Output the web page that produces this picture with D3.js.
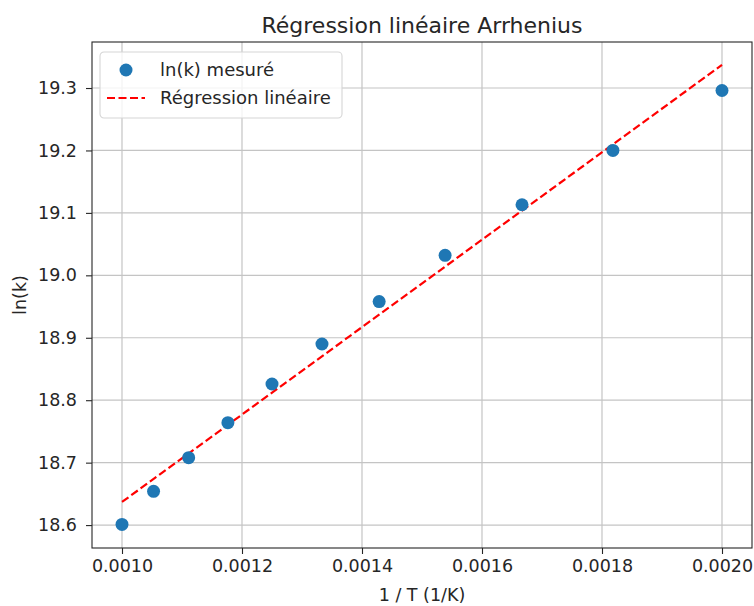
<!DOCTYPE html>
<html>
<head>
<meta charset="utf-8">
<script src="https://cdn.jsdelivr.net/npm/d3@7"></script>
<style>
  body { margin: 0; background: #fff; }
  text { font-family: "DejaVu Sans", sans-serif; fill: #262626; }
</style>
</head>
<body>
<script>
// data
let invT = [0.0010, 0.0010526, 0.0011111, 0.0011765, 0.00125, 0.0013333, 0.0014286, 0.0015385, 0.0016667, 0.0018182, 0.0020]
let lnK = [18.601, 18.654, 18.708, 18.764, 18.826, 18.890, 18.958, 19.032, 19.113, 19.200, 19.296]
let fitX = [0.0010, 0.0020]
let fitY = [18.637, 19.337]
let xTicks = [0.0010, 0.0012, 0.0014, 0.0016, 0.0018, 0.0020]
let yTicks = [18.6, 18.7, 18.8, 18.9, 19.0, 19.1, 19.2, 19.3]

let W = 754, H = 606
let margin = { top: 42, right: 2, bottom: 58, left: 92 }
  , width = W - margin.left - margin.right
  , height = H - margin.top - margin.bottom

let xScale = d3.scaleLinear()
  .domain([0.00095, 0.00205])
  .range([0, width])

let yScale = d3.scaleLinear()
  .domain([18.5633, 19.3737])
  .range([height, 0])

let svg = d3.select("body").append("svg")
  .attr("width", W)
  .attr("height", H)

let g = svg.append("g")
  .attr("transform", "translate(" + margin.left + "," + margin.top + ")")

// grid
g.append("g").selectAll("line")
  .data(xTicks).enter().append("line")
  .attr("x1", d => xScale(d)).attr("x2", d => xScale(d))
  .attr("y1", 0).attr("y2", height)
  .attr("stroke", "#c4c4c4").attr("stroke-width", 1.2)

g.append("g").selectAll("line")
  .data(yTicks).enter().append("line")
  .attr("y1", d => yScale(d)).attr("y2", d => yScale(d))
  .attr("x1", 0).attr("x2", width)
  .attr("stroke", "#c4c4c4").attr("stroke-width", 1.2)

// axes
let xAxis = g.append("g")
  .attr("transform", "translate(0," + height + ")")
  .call(d3.axisBottom(xScale).tickValues(xTicks).tickFormat(d3.format(".4f")).tickSize(6).tickPadding(6))

let yAxis = g.append("g")
  .call(d3.axisLeft(yScale).tickValues(yTicks).tickFormat(d3.format(".1f")).tickSize(6).tickPadding(9))

;[xAxis, yAxis].forEach(a => {
  a.select(".domain").remove()
  a.selectAll("line").attr("stroke", "#262626").attr("stroke-width", 1.1)
  a.selectAll("text").style("font-size", "17.5px").style("font-family", "DejaVu Sans, sans-serif").attr("fill", "#262626")
})

// frame
g.append("rect")
  .attr("width", width).attr("height", height)
  .attr("fill", "none").attr("stroke", "#262626").attr("stroke-width", 1.1)

// regression line
let line = d3.line()
  .x((d, i) => xScale(fitX[i]))
  .y(d => yScale(d))

g.append("path")
  .datum(fitY)
  .attr("d", line)
  .attr("fill", "none")
  .attr("stroke", "#ff0000")
  .attr("stroke-width", 2.2)
  .attr("stroke-dasharray", "8,3.5")

// points
g.selectAll(".dot")
  .data(lnK)
  .enter().append("circle")
  .attr("class", "dot")
  .attr("cx", (d, i) => xScale(invT[i]))
  .attr("cy", d => yScale(d))
  .attr("r", 6.5)
  .attr("fill", "#1f77b4")

// legend
let lg = g.append("g").attr("transform", "translate(8,10)")
lg.append("rect")
  .attr("width", 242).attr("height", 66).attr("rx", 4)
  .attr("fill", "#fff").attr("fill-opacity", 0.8)
  .attr("stroke", "#d6d6d6").attr("stroke-width", 1.1)
lg.append("circle").attr("cx", 26).attr("cy", 18).attr("r", 6.5).attr("fill", "#1f77b4")
lg.append("line").attr("x1", 7).attr("x2", 45).attr("y1", 46).attr("y2", 46)
  .attr("stroke", "#ff0000").attr("stroke-width", 2.2).attr("stroke-dasharray", "8,3.5")
lg.append("text").attr("x", 60).attr("y", 24).style("font-size", "18px").text("ln(k) mesuré")
lg.append("text").attr("x", 60).attr("y", 52).style("font-size", "18px").text("Régression linéaire")

// title and labels
svg.append("text")
  .attr("x", margin.left + width / 2).attr("y", 33)
  .attr("text-anchor", "middle").style("font-size", "22px")
  .text("Régression linéaire Arrhenius")

svg.append("text")
  .attr("x", margin.left + width / 2).attr("y", 601)
  .attr("text-anchor", "middle").style("font-size", "17.5px")
  .text("1 / T (1/K)")

svg.append("text")
  .attr("transform", "translate(26," + (margin.top + height / 2) + ") rotate(-90)")
  .attr("text-anchor", "middle").style("font-size", "17.5px")
  .text("ln(k)")
</script>
</body>
</html>
